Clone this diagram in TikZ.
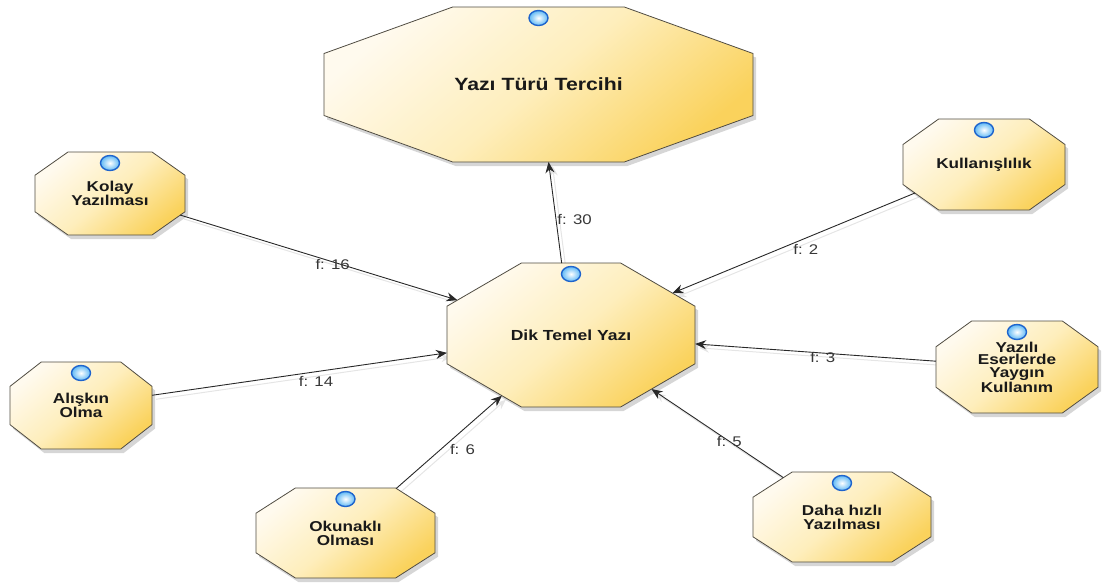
\documentclass[tikz,border=0pt]{standalone}
\usepackage{fontspec}
\setmainfont{Liberation Sans}[FakeStretch=1.2]
\usetikzlibrary{arrows.meta,shadows,shapes.geometric}
\pgfdeclarelayer{background}
\pgfsetlayers{background,main}
\makeatletter
\pgfkeys{/pgf/oct fx/.initial=0.3,/pgf/oct fy/.initial=0.3}
\pgfdeclareshape{octbox}{%
  \inheritsavedanchors[from=rectangle]%
  \inheritanchor[from=rectangle]{center}%
  \inheritanchor[from=rectangle]{north}%
  \inheritanchor[from=rectangle]{south}%
  \inheritanchor[from=rectangle]{east}%
  \inheritanchor[from=rectangle]{west}%
  \savedmacro\octfx{\edef\octfx{\pgfkeysvalueof{/pgf/oct fx}}}%
  \savedmacro\octfy{\edef\octfy{\pgfkeysvalueof{/pgf/oct fy}}}%
  \backgroundpath{%
    \southwest \edef\oc@l{\the\pgf@x}\edef\oc@b{\the\pgf@y}%
    \northeast \edef\oc@r{\the\pgf@x}\edef\oc@t{\the\pgf@y}%
    \pgfmathsetlengthmacro\oc@L{(\oc@l)+\octfx*((\oc@r)-(\oc@l))}%
    \pgfmathsetlengthmacro\oc@R{(\oc@r)-\octfx*((\oc@r)-(\oc@l))}%
    \pgfmathsetlengthmacro\oc@B{(\oc@b)+\octfy*((\oc@t)-(\oc@b))}%
    \pgfmathsetlengthmacro\oc@T{(\oc@t)-\octfy*((\oc@t)-(\oc@b))}%
    \pgfpathmoveto{\pgfpoint{\oc@L}{\oc@t}}%
    \pgfpathlineto{\pgfpoint{\oc@R}{\oc@t}}%
    \pgfpathlineto{\pgfpoint{\oc@r}{\oc@T}}%
    \pgfpathlineto{\pgfpoint{\oc@r}{\oc@B}}%
    \pgfpathlineto{\pgfpoint{\oc@R}{\oc@b}}%
    \pgfpathlineto{\pgfpoint{\oc@L}{\oc@b}}%
    \pgfpathlineto{\pgfpoint{\oc@l}{\oc@B}}%
    \pgfpathlineto{\pgfpoint{\oc@l}{\oc@T}}%
    \pgfpathclose
  }%
  \anchorborder{%
    \edef\oc@dx{\the\pgf@x}\edef\oc@dy{\the\pgf@y}%
    \southwest \edef\oc@l{\the\pgf@x}\edef\oc@b{\the\pgf@y}%
    \northeast \edef\oc@r{\the\pgf@x}\edef\oc@t{\the\pgf@y}%
    \pgfmathsetmacro\oc@a{((\oc@r)-(\oc@l))/2}%
    \pgfmathsetmacro\oc@h{((\oc@t)-(\oc@b))/2}%
    \pgfmathsetmacro\oc@mx{((\oc@r)+(\oc@l))/2}%
    \pgfmathsetmacro\oc@my{((\oc@t)+(\oc@b))/2}%
    \pgfmathsetmacro\oc@s{max(abs(\oc@dx),abs(\oc@dy),0.0001)}%
    \pgfmathsetmacro\oc@ux{(\oc@dx)/\oc@s}%
    \pgfmathsetmacro\oc@uy{(\oc@dy)/\oc@s}%
    \pgfmathsetmacro\oc@K{1/(2*\octfx)+1/(2*\octfy)-1}%
    \pgfmathsetmacro\oc@m{max(abs(\oc@ux)/\oc@a,abs(\oc@uy)/\oc@h,(abs(\oc@ux)/(2*\octfx*\oc@a)+abs(\oc@uy)/(2*\octfy*\oc@h))/\oc@K)}%
    \pgfmathsetmacro\oc@tt{1/\oc@m}%
    \pgfmathsetmacro\oc@X{\oc@mx+\oc@tt*(\oc@ux)}%
    \pgfmathsetmacro\oc@Y{\oc@my+\oc@tt*(\oc@uy)}%
    \pgf@x=\oc@X pt\relax
    \pgf@y=\oc@Y pt\relax
  }%
}
\makeatother
\definecolor{octlight}{RGB}{255,250,238}
\definecolor{octmid}{RGB}{254,238,188}
\definecolor{octdark}{RGB}{250,210,92}
\definecolor{octline}{RGB}{80,76,66}
\definecolor{iconring}{RGB}{30,100,205}
\definecolor{iconball}{RGB}{95,185,245}
\definecolor{linkcol}{RGB}{40,40,40}
\definecolor{labcol}{RGB}{55,55,55}
\tikzset{
  oct fx/.code={\pgfkeyssetvalue{/pgf/oct fx}{#1}},
  oct fy/.code={\pgfkeyssetvalue{/pgf/oct fy}{#1}},
  octnode/.style={shape=octbox, draw=octline, line width=0.8pt, outer sep=0pt,
    inner sep=2pt, align=center, text=black!90,
    font=\bfseries\fontsize{14.3}{14}\selectfont,
    top color=octlight, bottom color=octdark, middle color=octmid, shading angle=40,
    drop shadow={shadow xshift=3pt, shadow yshift=-4pt, opacity=0.16, fill=black}},
  bignode/.style={octnode, oct fx=0.3, oct fy=0.3},
  smallnode/.style={octnode, oct fx=0.22, oct fy=0.28},
  icon/.style={ellipse, minimum width=19pt, minimum height=15pt, inner sep=0pt,
    draw=iconring, line width=1.4pt, inner color=white, outer color=iconball},
  link/.style={draw=linkcol, line width=0.9pt, -{Stealth[length=11pt,width=9pt]}},
  ghost/.style={draw=black!10, line width=1pt, -{Stealth[length=10pt,width=8pt]},
    transform canvas={xshift=4pt,yshift=-4pt}},
  lab/.style={font=\fontsize{14}{14}\selectfont, text=labcol, inner sep=1pt},
}
\begin{document}
\begin{tikzpicture}[x=1pt,y=-1pt]
\useasboundingbox (0,0) rectangle (1103,582);
% nodes
\node[bignode, minimum width=429pt, minimum height=155pt,
  font=\bfseries\fontsize{17.7}{19}\selectfont] (top) at (538.5,84.5) {Yazı Türü Tercihi};
\node[bignode, minimum width=248pt, minimum height=144pt,
  font=\bfseries\fontsize{14.6}{16}\selectfont] (dik) at (571,335) {Dik Temel Yazı};
\node[smallnode, minimum width=150pt, minimum height=83pt] (kolay) at (110,193.5) {Kolay\\Yazılması};
\node[smallnode, minimum width=142pt, minimum height=87pt] (alis) at (81,405.5) {Alışkın\\Olma};
\node[smallnode, minimum width=162pt, minimum height=91pt] (kull) at (984,164.5) {Kullanışlılık};
\node[smallnode, minimum width=162pt, minimum height=92pt,
  font=\bfseries\fontsize{14.3}{12.8}\selectfont] (yazili) at (1017,367) {Yazılı\\Eserlerde\\Yaygın\\Kullanım};
\node[smallnode, minimum width=179pt, minimum height=90pt] (okun) at (345.5,533) {Okunaklı\\Olması};
\node[smallnode, minimum width=178pt, minimum height=90pt] (daha) at (842,517) {Daha hızlı\\Yazılması};
% faint duplicate connectors
\begin{pgfonlayer}{background}
\foreach \s/\t in {dik/top,kolay/dik,alis/dik,okun/dik,daha/dik,yazili/dik,kull/dik}
  \draw[ghost] (\s) -- (\t);
\end{pgfonlayer}
% connectors
\draw[link] (dik) -- node[lab, pos=0.43, anchor=west] {f: 30} (top);
\draw[link] (kolay) -- node[lab, pos=0.55, yshift=-3pt] {f: 16} (dik);
\draw[link] (alis) -- node[lab, pos=0.556, yshift=-10pt] {f: 14} (dik);
\draw[link] (okun) -- node[lab, pos=0.42, anchor=west, xshift=8pt] {f: 6} (dik);
\draw[link] (daha) -- node[lab, pos=0.41] {f: 5} (dik);
\draw[link] (yazili) -- node[lab, pos=0.47, yshift=-4pt] {f: 3} (dik);
\draw[link] (kull) -- node[lab, pos=0.45, yshift=-11pt] {f: 2} (dik);
% icons
\foreach \n in {top,dik,kolay,alis,kull,yazili,okun,daha}
  \node[icon] (\n-icon) at ([yshift=-11pt]\n.north) {};
\end{tikzpicture}
\end{document}
